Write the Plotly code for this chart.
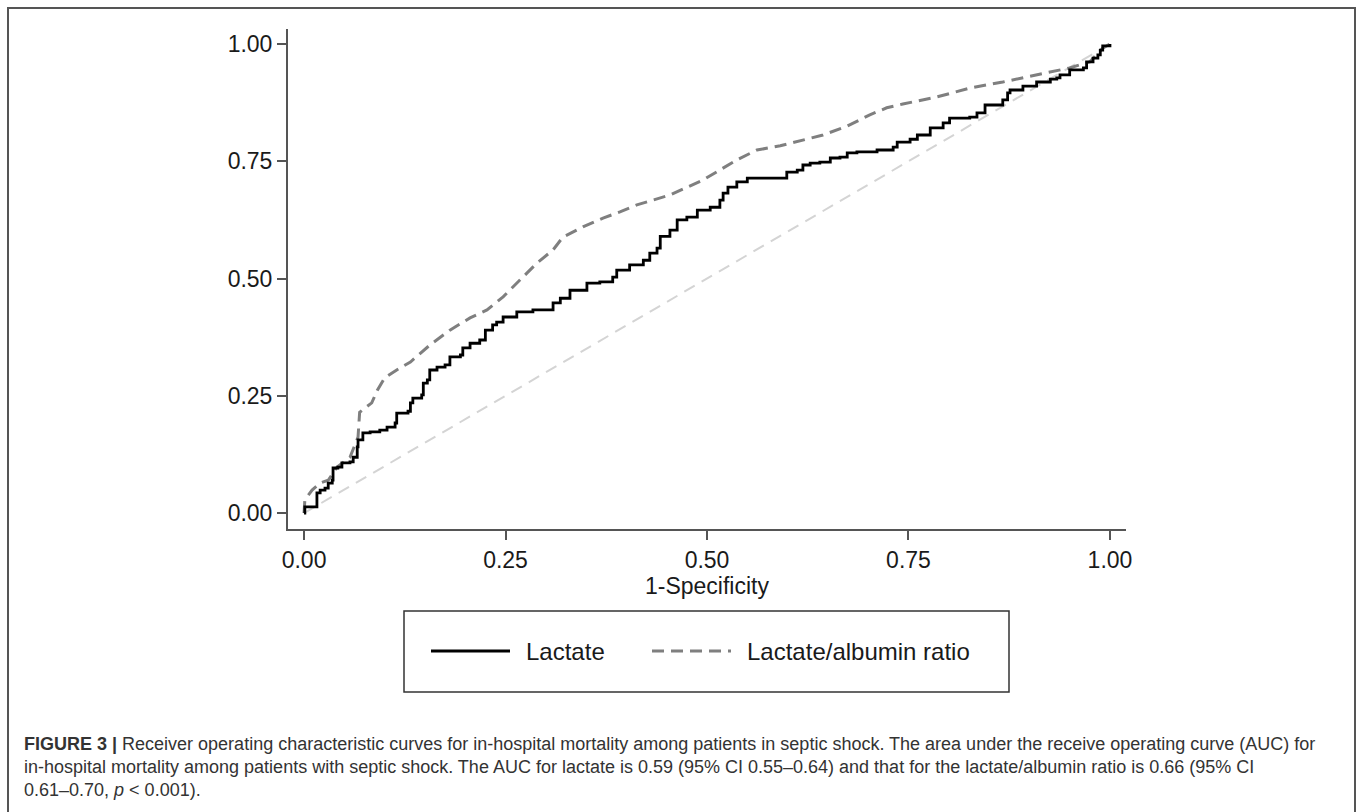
import plotly.graph_objects as go

# ---- data ----
tick_vals = [0, 0.25, 0.5, 0.75, 1.0]
tick_text = ["0.00", "0.25", "0.50", "0.75", "1.00"]

lactate_x = [0, 0.001, 0.014, 0.016, 0.020, 0.026, 0.030, 0.035, 0.036, 0.042, 0.047, 0.057, 0.061, 0.066,
             0.067, 0.073, 0.082, 0.094, 0.103, 0.113, 0.115, 0.129, 0.132, 0.135, 0.146, 0.148, 0.153, 0.156,
             0.165, 0.175, 0.181, 0.194, 0.197, 0.206, 0.218, 0.225, 0.234, 0.239, 0.247, 0.264, 0.284, 0.309,
             0.318, 0.330, 0.351, 0.367, 0.383, 0.388, 0.404, 0.421, 0.429, 0.438, 0.442, 0.454, 0.463, 0.475,
             0.488, 0.504, 0.516, 0.520, 0.526, 0.537, 0.550, 0.587, 0.599, 0.612, 0.619, 0.628, 0.640, 0.653,
             0.665, 0.674, 0.686, 0.711, 0.731, 0.736, 0.752, 0.761, 0.777, 0.793, 0.801, 0.826, 0.835, 0.845,
             0.864, 0.867, 0.873, 0.876, 0.892, 0.909, 0.926, 0.934, 0.938, 0.950, 0.967, 0.971, 0.979, 0.985,
             0.988, 0.991, 1.0]
lactate_y = [0, 0.013, 0.013, 0.043, 0.049, 0.053, 0.064, 0.070, 0.096, 0.098, 0.107, 0.109, 0.119, 0.141,
             0.156, 0.171, 0.173, 0.177, 0.183, 0.192, 0.213, 0.217, 0.235, 0.245, 0.252, 0.277, 0.284, 0.305,
             0.311, 0.316, 0.333, 0.337, 0.352, 0.362, 0.369, 0.390, 0.401, 0.407, 0.418, 0.429, 0.433, 0.448,
             0.458, 0.475, 0.490, 0.493, 0.503, 0.518, 0.529, 0.539, 0.554, 0.565, 0.590, 0.603, 0.625, 0.631,
             0.646, 0.652, 0.667, 0.682, 0.695, 0.706, 0.714, 0.714, 0.727, 0.731, 0.742, 0.746, 0.748, 0.757,
             0.759, 0.768, 0.770, 0.774, 0.780, 0.791, 0.797, 0.806, 0.821, 0.832, 0.842, 0.844, 0.853, 0.870,
             0.870, 0.881, 0.896, 0.902, 0.910, 0.919, 0.925, 0.928, 0.934, 0.945, 0.949, 0.962, 0.970, 0.977,
             0.987, 0.996, 1.0]

ratio_x = [0, 0.001, 0.010, 0.020, 0.030, 0.041, 0.057, 0.067, 0.069, 0.078, 0.084, 0.091, 0.100, 0.115,
           0.132, 0.156, 0.181, 0.206, 0.227, 0.247, 0.272, 0.289, 0.309, 0.321, 0.346, 0.371, 0.392, 0.413,
           0.454, 0.495, 0.537, 0.562, 0.591, 0.619, 0.644, 0.674, 0.702, 0.723, 0.743, 0.785, 0.826, 0.867,
           0.909, 0.950, 0.975, 0.991, 1.0]
ratio_y = [0, 0.028, 0.049, 0.064, 0.070, 0.098, 0.119, 0.162, 0.215, 0.226, 0.235, 0.262, 0.288, 0.305,
           0.322, 0.358, 0.390, 0.416, 0.433, 0.461, 0.503, 0.533, 0.561, 0.588, 0.610, 0.629, 0.642, 0.657,
           0.678, 0.710, 0.753, 0.774, 0.783, 0.795, 0.806, 0.825, 0.849, 0.864, 0.872, 0.887, 0.906, 0.919,
           0.934, 0.949, 0.962, 0.991, 1.0]

diag_x = [0, 1]
diag_y = [0, 1]

series_names = ["Lactate", "Lactate/albumin ratio"]
x_title = "1-Specificity"
caption_lines = [
    "<b>FIGURE 3 |</b> Receiver operating characteristic curves for in-hospital mortality among patients in septic shock. "
    "The area under the receive operating curve (AUC) for",
    "in-hospital mortality among patients with septic shock. The AUC for lactate is 0.59 (95% CI 0.55–0.64) "
    "and that for the lactate/albumin ratio is 0.66 (95% CI",
    "0.61–0.70, <i>p</i> &lt; 0.001).",
]

# ---- layout geometry (pixels) ----
W, H = 1357, 812
L, R, T, B = 288, 1126, 29, 529
PW, PH = R - L, B - T


def px(xp):
    return (xp - L) / PW


def py(yp):
    return (B - yp) / PH


FONT = "Liberation Sans, Arial, Helvetica, sans-serif"

fig = go.Figure()
fig.add_trace(go.Scatter(x=diag_x, y=diag_y, mode="lines", showlegend=False, hoverinfo="skip",
                         line=dict(color="#d4d4d4", width=2, dash="12px,8px")))
fig.add_trace(go.Scatter(x=ratio_x, y=ratio_y, mode="lines", name=series_names[1], showlegend=False,
                         line=dict(color="#7f7f7f", width=3, dash="12px,7px")))
fig.add_trace(go.Scatter(x=lactate_x, y=lactate_y, mode="lines", name=series_names[0], showlegend=False,
                         line=dict(color="#000000", width=2.8, shape="hv")))

axis_common = dict(
    showgrid=False, zeroline=False, showline=True, linecolor="#555555", linewidth=2,
    ticks="outside", ticklen=9, tickwidth=1.5, tickcolor="#555555",
    tickvals=tick_vals, ticktext=tick_text,
    tickfont=dict(family=FONT, size=23, color="#1a1a1a"),
)

fig.update_xaxes(range=[-0.0199, 1.0199], title=dict(text=x_title, font=dict(family=FONT, size=23, color="#1a1a1a"),
                                                     standoff=2), **axis_common)
fig.update_yaxes(range=[-0.034, 1.032], **axis_common)

shapes = []
# outer figure frame
shapes.append(dict(type="rect", xref="paper", yref="paper", x0=px(8), x1=px(1355), y0=py(830), y1=py(8),
                   line=dict(color="#555555", width=2), fillcolor="rgba(0,0,0,0)", layer="below"))
# legend box
shapes.append(dict(type="rect", xref="paper", yref="paper", x0=px(404), x1=px(1009), y0=py(692), y1=py(611),
                   line=dict(color="#333333", width=1.5), fillcolor="rgba(0,0,0,0)"))
# legend samples
leg_y = py(651)
shapes.append(dict(type="line", xref="paper", yref="paper", x0=px(431), x1=px(510), y0=leg_y, y1=leg_y,
                   line=dict(color="#000000", width=2.8)))
shapes.append(dict(type="line", xref="paper", yref="paper", x0=px(652), x1=px(731), y0=leg_y, y1=leg_y,
                   line=dict(color="#7f7f7f", width=3, dash="12px,7px")))

annotations = [
    dict(xref="paper", yref="paper", x=px(524), y=leg_y, text=series_names[0], showarrow=False,
         xanchor="left", yanchor="middle", font=dict(family=FONT, size=24, color="#1a1a1a")),
    dict(xref="paper", yref="paper", x=px(745), y=leg_y, text=series_names[1], showarrow=False,
         xanchor="left", yanchor="middle", font=dict(family=FONT, size=24, color="#1a1a1a")),
]
for i, line in enumerate(caption_lines):
    annotations.append(dict(xref="paper", yref="paper", x=px(22), y=py(744 + 23 * i), text=line,
                            showarrow=False, xanchor="left", yanchor="middle", align="left",
                            font=dict(family=FONT, size=18, color="#333333")))

fig.update_layout(
    width=W, height=H, autosize=False,
    margin=dict(l=L, r=W - R, t=T, b=H - B, pad=0),
    plot_bgcolor="white", paper_bgcolor="white",
    shapes=shapes, annotations=annotations, showlegend=False,
)

fig.write_html("out.html", config={"displayModeBar": False},
               post_script="document.body.style.margin='0';document.body.style.padding='0';"
                           "document.body.style.overflow='hidden';")
